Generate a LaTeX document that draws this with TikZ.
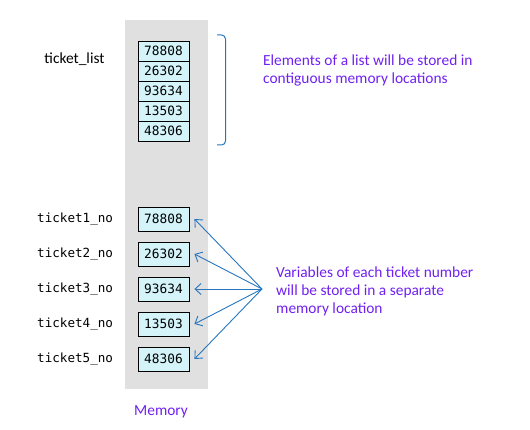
\documentclass[tikz,border=0pt]{standalone}
\usepackage{fontspec}
\setmainfont{Carlito}
\setmonofont{DejaVu Sans Mono}
\usetikzlibrary{arrows.meta}
\definecolor{memgray}{RGB}{224,224,224}
\definecolor{cellcyan}{RGB}{212,244,250}
\definecolor{notepurple}{RGB}{112,32,240}
\definecolor{arrowblue}{RGB}{38,118,190}
\tikzset{
 cell/.style={draw,line width=.9pt,fill=cellcyan,minimum width=51pt,minimum height=20pt,inner sep=0pt,font=\fontsize{12.8}{14}\ttfamily},
 varname/.style={anchor=west,inner sep=0pt,font=\fontsize{12.6}{14}\ttfamily},
 note/.style={text=notepurple,align=left,inner sep=0pt},
 pointer/.style={arrowblue,line width=.9pt,-{Straight Barb[length=6pt,width=11pt]}}
}
\begin{document}
\begin{tikzpicture}[x=1pt,y=-1pt,font=\fontsize{15.4}{18}\selectfont]
\useasboundingbox (0,0) rectangle (530,430);
\fill[memgray] (125,20) rectangle (208,389);
% list kept in one block
\node[inner sep=0pt] (lst) at (74.5,59) {ticket\_list};
\foreach \i/\val in {1/78808,2/26302,3/93634,4/13503,5/48306}{
 \node[cell] (l\i) at (163.5,{51+20*(\i-1)}) {\val};
 \node[cell,minimum height=24pt] (v\i) at (163.5,{219+35*(\i-1)}) {\val};
 \node[varname] (n\i) at (37,{219+35*(\i-1)}) {ticket\i\_no};
}
\draw[arrowblue,line width=1pt,rounded corners=4pt] (217,35) -- (225.5,35) -- (225.5,145) -- (217,145);
\node[note,anchor=west] (elem) at (263,70) {Elements of a list will be stored in\\contiguous memory locations};
% separate variables
\coordinate (src) at (262,289);
\foreach \i in {1,...,5}{\draw[pointer] (src) -- ([xshift=5pt]v\i.east);}
\node[note,anchor=west] (vars) at (276,291) {Variables of each ticket number\\will be stored in a separate\\memory location};
\node[note] (mem) at (161,412) {Memory};
\end{tikzpicture}
\end{document}
